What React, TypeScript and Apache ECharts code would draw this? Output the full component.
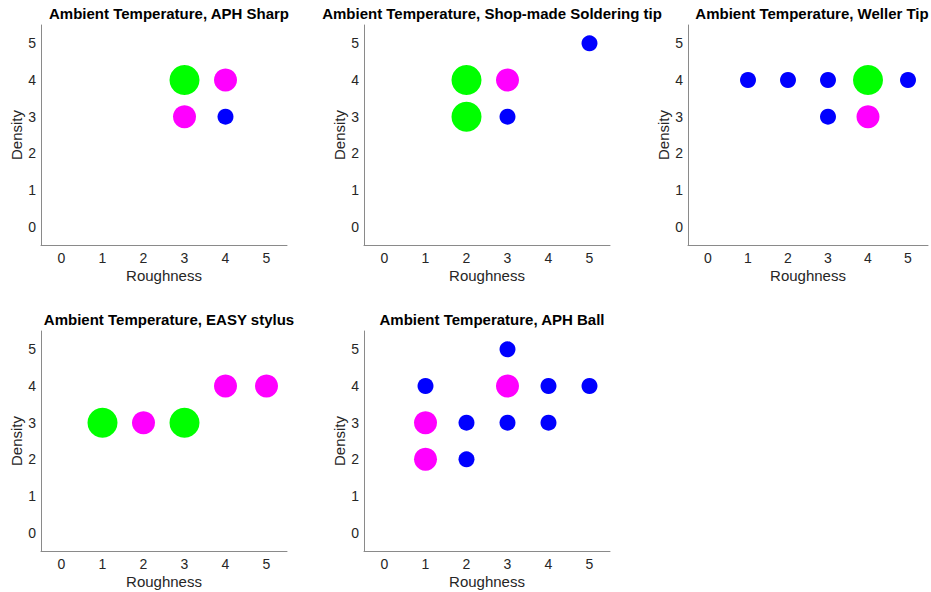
import React, { useEffect, useRef } from "react";
import * as echarts from "echarts";

const panelTitles = [
  "Ambient Temperature, APH Sharp",
  "Ambient Temperature, Shop-made Soldering tip",
  "Ambient Temperature, Weller Tip",
  "Ambient Temperature, EASY stylus",
  "Ambient Temperature, APH Ball",
];

// [roughness, density, level] ; level 1 = blue small, 2 = magenta, 3 = green large
const aphSharp = [
  [3, 4, 3],
  [4, 4, 2],
  [3, 3, 2],
  [4, 3, 1],
];
const shopMade = [
  [2, 4, 3],
  [3, 4, 2],
  [2, 3, 3],
  [3, 3, 1],
  [5, 5, 1],
];
const weller = [
  [1, 4, 1],
  [2, 4, 1],
  [3, 4, 1],
  [4, 4, 3],
  [5, 4, 1],
  [3, 3, 1],
  [4, 3, 2],
];
const easyStylus = [
  [1, 3, 3],
  [2, 3, 2],
  [3, 3, 3],
  [4, 4, 2],
  [5, 4, 2],
];
const aphBall = [
  [1, 4, 1],
  [3, 5, 1],
  [3, 4, 2],
  [4, 4, 1],
  [5, 4, 1],
  [1, 3, 2],
  [2, 3, 1],
  [3, 3, 1],
  [4, 3, 1],
  [1, 2, 2],
  [2, 2, 1],
];
const panelData = [aphSharp, shopMade, weller, easyStylus, aphBall];

const levelColors = ["#0000ff", "#ff00ff", "#00ff00"];
const levelSizes = [16, 23, 30];
const tickValues = [0, 1, 2, 3, 4, 5];

const gridPos = [
  { left: 41, top: 25 },
  { left: 364, top: 25 },
  { left: 688, top: 25 },
  { left: 41, top: 331 },
  { left: 364, top: 331 },
];
const titleShift = [0, 0, -4, 0, 0];
const GW = 246;
const GH = 220;

export default function App() {
  const ref = useRef<HTMLDivElement>(null);
  useEffect(() => {
    if (!ref.current) return;
    const chart = echarts.init(ref.current, null, { renderer: "svg" });
    const font = "'Liberation Sans', Arial, Helvetica, sans-serif";
    const axisColor = "#8a8a8a";
    const textColor = "#262626";
    const grids = gridPos.map((g) => ({
      left: g.left,
      top: g.top,
      width: GW,
      height: GH,
      containLabel: false,
    }));
    const xAxes = gridPos.map((_, i) => ({
      type: "value",
      gridIndex: i,
      min: -0.5,
      max: 5.5,
      interval: 0.5,
      name: "Roughness",
      nameLocation: "middle",
      nameGap: 23,
      nameTextStyle: { fontFamily: font, fontSize: 15, color: textColor },
      axisLine: { show: true, onZero: false, lineStyle: { color: axisColor, width: 1 } },
      axisTick: { show: false },
      splitLine: { show: false },
      axisLabel: {
        fontFamily: font,
        fontSize: 14,
        color: textColor,
        margin: 6,
        formatter: (v: number) => (tickValues.includes(v) ? String(v) : ""),
      },
    }));
    const yAxes = gridPos.map((_, i) => ({
      type: "value",
      gridIndex: i,
      min: -0.5,
      max: 5.5,
      interval: 0.5,
      name: "Density",
      nameLocation: "middle",
      nameGap: 17,
      nameTextStyle: { fontFamily: font, fontSize: 15, color: textColor },
      axisLine: { show: true, onZero: false, lineStyle: { color: axisColor, width: 1 } },
      axisTick: { show: false },
      splitLine: { show: false },
      axisLabel: {
        fontFamily: font,
        fontSize: 14,
        color: textColor,
        margin: 5,
        formatter: (v: number) => (tickValues.includes(v) ? String(v) : ""),
      },
    }));
    const titles = gridPos.map((g, i) => ({
      text: panelTitles[i],
      left: g.left + GW / 2 + titleShift[i],
      top: g.top - 24,
      textAlign: "center",
      textStyle: { fontFamily: font, fontSize: 15, fontWeight: "bold", color: "#000" },
    }));
    const series = panelData.map((d, i) => ({
      type: "scatter",
      xAxisIndex: i,
      yAxisIndex: i,
      data: d,
      symbol: "circle",
      symbolSize: (v: number[]) => levelSizes[v[2] - 1],
      itemStyle: {
        opacity: 1,
        color: (p: any) => levelColors[p.data[2] - 1],
      },
    }));
    chart.setOption({
      animation: false,
      backgroundColor: "#ffffff",
      title: titles,
      grid: grids,
      xAxis: xAxes,
      yAxis: yAxes,
      series,
    });
    return () => chart.dispose();
  }, []);
  return (
    <div
      ref={ref}
      style={{ position: "fixed", left: 0, top: 0, width: 931, height: 592 }}
    />
  );
}
